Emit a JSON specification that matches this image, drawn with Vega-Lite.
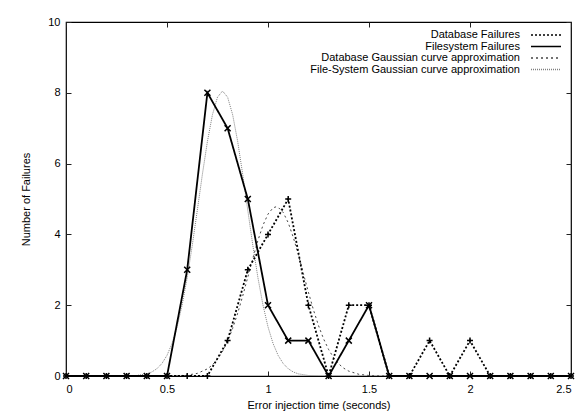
{
  "$schema": "https://vega.github.io/schema/vega-lite/v6.json",
  "width": 505,
  "height": 354,
  "autosize": {"type": "none"},
  "padding": {"left": 66, "top": 22, "right": 15, "bottom": 44},
  "background": "white",
  "config": {
    "font": "Liberation Sans",
    "view": {"stroke": "black", "strokeWidth": 1.2},
    "axis": {"domain": false, "grid": false, "tickColor": "#222222", "tickSize": -5, "tickWidth": 1, "labelColor": "black", "titleColor": "black", "labelFontSize": 11, "titleFontSize": 11, "titleFontWeight": "normal", "labelFont": "Liberation Sans", "titleFont": "Liberation Sans"},
    "legend": {"labelFont": "Liberation Sans", "labelFontSize": 11, "labelColor": "black"}
  },
  "data": {"values": [
    {"s": "Database Failures", "x": 0, "y": 0}, {"s": "Database Failures", "x": 0.1, "y": 0}, {"s": "Database Failures", "x": 0.2, "y": 0}, {"s": "Database Failures", "x": 0.3, "y": 0}, {"s": "Database Failures", "x": 0.4, "y": 0}, {"s": "Database Failures", "x": 0.5, "y": 0}, {"s": "Database Failures", "x": 0.6, "y": 0}, {"s": "Database Failures", "x": 0.7, "y": 0}, {"s": "Database Failures", "x": 0.8, "y": 1}, {"s": "Database Failures", "x": 0.9, "y": 3}, {"s": "Database Failures", "x": 1.0, "y": 4}, {"s": "Database Failures", "x": 1.1, "y": 5}, {"s": "Database Failures", "x": 1.2, "y": 2}, {"s": "Database Failures", "x": 1.3, "y": 0}, {"s": "Database Failures", "x": 1.4, "y": 2}, {"s": "Database Failures", "x": 1.5, "y": 2}, {"s": "Database Failures", "x": 1.6, "y": 0}, {"s": "Database Failures", "x": 1.7, "y": 0}, {"s": "Database Failures", "x": 1.8, "y": 1}, {"s": "Database Failures", "x": 1.9, "y": 0}, {"s": "Database Failures", "x": 2.0, "y": 1}, {"s": "Database Failures", "x": 2.1, "y": 0}, {"s": "Database Failures", "x": 2.2, "y": 0}, {"s": "Database Failures", "x": 2.3, "y": 0}, {"s": "Database Failures", "x": 2.4, "y": 0}, {"s": "Database Failures", "x": 2.5, "y": 0},
    {"s": "Filesystem Failures", "x": 0, "y": 0}, {"s": "Filesystem Failures", "x": 0.1, "y": 0}, {"s": "Filesystem Failures", "x": 0.2, "y": 0}, {"s": "Filesystem Failures", "x": 0.3, "y": 0}, {"s": "Filesystem Failures", "x": 0.4, "y": 0}, {"s": "Filesystem Failures", "x": 0.5, "y": 0}, {"s": "Filesystem Failures", "x": 0.6, "y": 3}, {"s": "Filesystem Failures", "x": 0.7, "y": 8}, {"s": "Filesystem Failures", "x": 0.8, "y": 7}, {"s": "Filesystem Failures", "x": 0.9, "y": 5}, {"s": "Filesystem Failures", "x": 1.0, "y": 2}, {"s": "Filesystem Failures", "x": 1.1, "y": 1}, {"s": "Filesystem Failures", "x": 1.2, "y": 1}, {"s": "Filesystem Failures", "x": 1.3, "y": 0}, {"s": "Filesystem Failures", "x": 1.4, "y": 1}, {"s": "Filesystem Failures", "x": 1.5, "y": 2}, {"s": "Filesystem Failures", "x": 1.6, "y": 0}, {"s": "Filesystem Failures", "x": 1.7, "y": 0}, {"s": "Filesystem Failures", "x": 1.8, "y": 0}, {"s": "Filesystem Failures", "x": 1.9, "y": 0}, {"s": "Filesystem Failures", "x": 2.0, "y": 0}, {"s": "Filesystem Failures", "x": 2.1, "y": 0}, {"s": "Filesystem Failures", "x": 2.2, "y": 0}, {"s": "Filesystem Failures", "x": 2.3, "y": 0}, {"s": "Filesystem Failures", "x": 2.4, "y": 0}, {"s": "Filesystem Failures", "x": 2.5, "y": 0},
    {"s": "Database Gaussian curve approximation", "x": 0, "y": 0}, {"s": "Database Gaussian curve approximation", "x": 0.5, "y": 0.001}, {"s": "Database Gaussian curve approximation", "x": 0.55, "y": 0.006}, {"s": "Database Gaussian curve approximation", "x": 0.6, "y": 0.024}, {"s": "Database Gaussian curve approximation", "x": 0.65, "y": 0.074}, {"s": "Database Gaussian curve approximation", "x": 0.7, "y": 0.201}, {"s": "Database Gaussian curve approximation", "x": 0.725, "y": 0.314}, {"s": "Database Gaussian curve approximation", "x": 0.75, "y": 0.476}, {"s": "Database Gaussian curve approximation", "x": 0.775, "y": 0.696}, {"s": "Database Gaussian curve approximation", "x": 0.8, "y": 0.984}, {"s": "Database Gaussian curve approximation", "x": 0.825, "y": 1.345}, {"s": "Database Gaussian curve approximation", "x": 0.85, "y": 1.776}, {"s": "Database Gaussian curve approximation", "x": 0.875, "y": 2.265}, {"s": "Database Gaussian curve approximation", "x": 0.9, "y": 2.792}, {"s": "Database Gaussian curve approximation", "x": 0.925, "y": 3.326}, {"s": "Database Gaussian curve approximation", "x": 0.95, "y": 3.827}, {"s": "Database Gaussian curve approximation", "x": 0.975, "y": 4.257}, {"s": "Database Gaussian curve approximation", "x": 1.0, "y": 4.574}, {"s": "Database Gaussian curve approximation", "x": 1.025, "y": 4.75}, {"s": "Database Gaussian curve approximation", "x": 1.04, "y": 4.78}, {"s": "Database Gaussian curve approximation", "x": 1.05, "y": 4.767}, {"s": "Database Gaussian curve approximation", "x": 1.075, "y": 4.622}, {"s": "Database Gaussian curve approximation", "x": 1.1, "y": 4.331}, {"s": "Database Gaussian curve approximation", "x": 1.125, "y": 3.921}, {"s": "Database Gaussian curve approximation", "x": 1.15, "y": 3.43}, {"s": "Database Gaussian curve approximation", "x": 1.175, "y": 2.899}, {"s": "Database Gaussian curve approximation", "x": 1.2, "y": 2.368}, {"s": "Database Gaussian curve approximation", "x": 1.225, "y": 1.869}, {"s": "Database Gaussian curve approximation", "x": 1.25, "y": 1.425}, {"s": "Database Gaussian curve approximation", "x": 1.275, "y": 1.051}, {"s": "Database Gaussian curve approximation", "x": 1.3, "y": 0.748}, {"s": "Database Gaussian curve approximation", "x": 1.325, "y": 0.515}, {"s": "Database Gaussian curve approximation", "x": 1.35, "y": 0.342}, {"s": "Database Gaussian curve approximation", "x": 1.375, "y": 0.22}, {"s": "Database Gaussian curve approximation", "x": 1.4, "y": 0.137}, {"s": "Database Gaussian curve approximation", "x": 1.45, "y": 0.048}, {"s": "Database Gaussian curve approximation", "x": 1.5, "y": 0.014}, {"s": "Database Gaussian curve approximation", "x": 1.55, "y": 0.004}, {"s": "Database Gaussian curve approximation", "x": 1.6, "y": 0.001}, {"s": "Database Gaussian curve approximation", "x": 2.5, "y": 0},
    {"s": "File-System Gaussian curve approximation", "x": 0, "y": 0}, {"s": "File-System Gaussian curve approximation", "x": 0.25, "y": 0.001}, {"s": "File-System Gaussian curve approximation", "x": 0.3, "y": 0.003}, {"s": "File-System Gaussian curve approximation", "x": 0.35, "y": 0.015}, {"s": "File-System Gaussian curve approximation", "x": 0.4, "y": 0.061}, {"s": "File-System Gaussian curve approximation", "x": 0.425, "y": 0.114}, {"s": "File-System Gaussian curve approximation", "x": 0.45, "y": 0.206}, {"s": "File-System Gaussian curve approximation", "x": 0.475, "y": 0.354}, {"s": "File-System Gaussian curve approximation", "x": 0.5, "y": 0.583}, {"s": "File-System Gaussian curve approximation", "x": 0.525, "y": 0.919}, {"s": "File-System Gaussian curve approximation", "x": 0.55, "y": 1.388}, {"s": "File-System Gaussian curve approximation", "x": 0.575, "y": 2.008}, {"s": "File-System Gaussian curve approximation", "x": 0.6, "y": 2.78}, {"s": "File-System Gaussian curve approximation", "x": 0.625, "y": 3.686}, {"s": "File-System Gaussian curve approximation", "x": 0.65, "y": 4.68}, {"s": "File-System Gaussian curve approximation", "x": 0.675, "y": 5.689}, {"s": "File-System Gaussian curve approximation", "x": 0.7, "y": 6.622}, {"s": "File-System Gaussian curve approximation", "x": 0.725, "y": 7.381}, {"s": "File-System Gaussian curve approximation", "x": 0.75, "y": 7.877}, {"s": "File-System Gaussian curve approximation", "x": 0.775, "y": 8.05}, {"s": "File-System Gaussian curve approximation", "x": 0.8, "y": 7.877}, {"s": "File-System Gaussian curve approximation", "x": 0.825, "y": 7.381}, {"s": "File-System Gaussian curve approximation", "x": 0.85, "y": 6.622}, {"s": "File-System Gaussian curve approximation", "x": 0.875, "y": 5.689}, {"s": "File-System Gaussian curve approximation", "x": 0.9, "y": 4.68}, {"s": "File-System Gaussian curve approximation", "x": 0.925, "y": 3.686}, {"s": "File-System Gaussian curve approximation", "x": 0.95, "y": 2.78}, {"s": "File-System Gaussian curve approximation", "x": 0.975, "y": 2.008}, {"s": "File-System Gaussian curve approximation", "x": 1.0, "y": 1.388}, {"s": "File-System Gaussian curve approximation", "x": 1.025, "y": 0.919}, {"s": "File-System Gaussian curve approximation", "x": 1.05, "y": 0.583}, {"s": "File-System Gaussian curve approximation", "x": 1.075, "y": 0.354}, {"s": "File-System Gaussian curve approximation", "x": 1.1, "y": 0.206}, {"s": "File-System Gaussian curve approximation", "x": 1.125, "y": 0.114}, {"s": "File-System Gaussian curve approximation", "x": 1.15, "y": 0.061}, {"s": "File-System Gaussian curve approximation", "x": 1.2, "y": 0.015}, {"s": "File-System Gaussian curve approximation", "x": 1.25, "y": 0.003}, {"s": "File-System Gaussian curve approximation", "x": 1.3, "y": 0.001}, {"s": "File-System Gaussian curve approximation", "x": 2.5, "y": 0}
  ]},
  "layer": [
    {
      "transform": [{"filter": "indexof(datum.s, 'Gaussian') >= 0"}],
      "mark": {"type": "line", "strokeWidth": 1, "clip": true},
      "encoding": {
        "x": {"field": "x", "type": "quantitative", "scale": {"domain": [0, 2.5], "nice": false, "zero": false}, "axis": {"orient": "top", "labels": false, "title": null, "values": [0, 0.5, 1, 1.5, 2, 2.5]}},
        "y": {"field": "y", "type": "quantitative", "scale": {"domain": [0, 10], "nice": false}, "axis": {"orient": "right", "labels": false, "title": null, "values": [0, 2, 4, 6, 8, 10]}},
        "color": {"field": "s", "type": "nominal", "scale": {"domain": ["Database Failures", "Filesystem Failures", "Database Gaussian curve approximation", "File-System Gaussian curve approximation"], "range": ["#000000", "#000000", "#444444", "#808080"]}, "legend": {"title": null, "orient": "top-right", "offset": 7, "symbolType": "M-3,0H3", "symbolSize": 100, "symbolStrokeWidth": 1.5, "labelAlign": "right", "labelOffset": -32, "rowPadding": 0.5, "labelLimit": 400}},
        "strokeDash": {"field": "s", "type": "nominal", "scale": {"domain": ["Database Failures", "Filesystem Failures", "Database Gaussian curve approximation", "File-System Gaussian curve approximation"], "range": [[2, 2], [1, 0], [2, 3], [1, 1]]}, "legend": {"title": null}}
      }
    },
    {
      "transform": [{"filter": "indexof(datum.s, 'Failures') >= 0"}],
      "mark": {"type": "line", "strokeWidth": 1.8},
      "encoding": {
        "x": {"field": "x", "type": "quantitative", "axis": {"orient": "bottom", "title": "Error injection time (seconds)", "values": [0, 0.5, 1, 1.5, 2, 2.5], "format": "~g", "labelPadding": 12, "titlePadding": 5}},
        "y": {"field": "y", "type": "quantitative", "axis": {"orient": "left", "title": "Number of Failures", "values": [0, 2, 4, 6, 8, 10], "labelPadding": 11, "titlePadding": 16}},
        "color": {"field": "s", "type": "nominal"},
        "strokeDash": {"field": "s", "type": "nominal"}
      }
    },
    {
      "transform": [{"filter": "indexof(datum.s, 'Failures') >= 0"}],
      "mark": {"type": "point", "filled": false, "strokeWidth": 1.5, "size": 36, "opacity": 1},
      "encoding": {
        "x": {"field": "x", "type": "quantitative", "axis": null},
        "y": {"field": "y", "type": "quantitative", "axis": null},
        "shape": {"field": "s", "type": "nominal", "scale": {"domain": ["Database Failures", "Filesystem Failures"], "range": ["M-1,0H1M0,-1V1", "M-1,-1L1,1M-1,1L1,-1"]}, "legend": null},
        "color": {"value": "black"}
      }
    }
  ],
  "resolve": {"axis": {"x": "independent", "y": "independent"}}
}
